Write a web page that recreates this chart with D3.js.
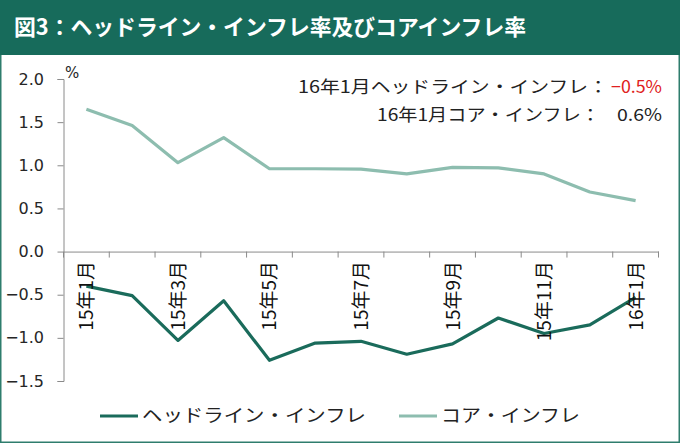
<!DOCTYPE html>
<html>
<head>
<meta charset="utf-8">
<script src="https://cdn.jsdelivr.net/npm/d3@7"></script>
<style>
  html, body { margin: 0; padding: 0; background: #fff; }
  svg { display: block; }
</style>
</head>
<body>
<svg id="chart" width="680" height="443"></svg>
<script>
const titleText = "図3：ヘッドライン・インフレ率及びコアインフレ率";
const categories = ["15年1月","15年2月","15年3月","15年4月","15年5月","15年6月","15年7月","15年8月","15年9月","15年10月","15年11月","15年12月","16年1月"];
const headline = [-0.40, -0.51, -1.03, -0.57, -1.26, -1.06, -1.04, -1.19, -1.07, -0.77, -0.95, -0.85, -0.53];
const core = [1.65, 1.46, 1.03, 1.32, 0.96, 0.96, 0.955, 0.90, 0.975, 0.97, 0.90, 0.69, 0.59];
const yTicks = [2.0, 1.5, 1.0, 0.5, 0.0, -0.5, -1.0, -1.5];
const seriesNames = ["ヘッドライン・インフレ", "コア・インフレ"];
const noteLabels = ["16年1月ヘッドライン・インフレ：", "16年1月コア・インフレ："];
const noteValues = ["−0.5%", "0.6%"];

const W = 680, H = 443;
const svg = d3.select("#chart");
const JP = "'Noto Sans CJK JP', 'Noto Sans', sans-serif";
const headColor = "#1a6b5b";
const coreColor = "#8dbdaf";
const axisColor = "#8a8a8a";

// frame
svg.append("rect").attr("x", 0).attr("y", 0).attr("width", W).attr("height", H).attr("fill", "#fff");
svg.append("rect").attr("x", 0.75).attr("y", 0.75).attr("width", W - 1.5).attr("height", H - 1.5)
  .attr("fill", "none").attr("stroke", "#2e7d6d").attr("stroke-width", 1.5);
svg.append("rect").attr("x", 0).attr("y", 0).attr("width", W).attr("height", 55).attr("fill", "#176b5b");
svg.append("text").attr("x", 14).attr("y", 35).attr("fill", "#fff")
  .attr("font-family", JP).attr("font-size", 22).attr("font-weight", "bold")
  .attr("textLength", 512).attr("lengthAdjust", "spacingAndGlyphs")
  .text(titleText);

// scales
const x = d3.scaleBand().domain(categories).range([63.5, 658.5]).padding(0);
const y = d3.scaleLinear().domain([-1.5, 2.0]).range([381, 79]);

// y axis
const yAxis = svg.append("g").attr("transform", "translate(63.5,0)")
  .call(d3.axisLeft(y).tickValues(yTicks).tickSize(6).tickFormat(d3.format(".1f")));
yAxis.select(".domain").attr("stroke", axisColor);
yAxis.selectAll(".tick line").attr("stroke", axisColor);
yAxis.selectAll(".tick text").attr("font-family", "'DejaVu Sans', sans-serif")
  .attr("font-size", 16).attr("fill", "#262626").attr("x", -19.5);

svg.append("text").attr("x", 65).attr("y", 78).attr("font-family", "'DejaVu Sans', sans-serif")
  .attr("font-size", 15).attr("fill", "#262626").text("%");

// x axis at zero
const xAxisG = svg.append("g").attr("transform", `translate(0,${y(0)})`)
  .call(d3.axisBottom(x).tickSize(0).tickFormat(""));
xAxisG.select(".domain").attr("stroke", axisColor);
const bounds = categories.map(c => x(c)).concat([x.range()[1]]);
xAxisG.selectAll(".btick").data(bounds).enter().append("line")
  .attr("x1", d => d).attr("x2", d => d).attr("y1", 0).attr("y2", 6)
  .attr("stroke", axisColor);

// lines
const line = d3.line().x((d, i) => x(categories[i]) + x.bandwidth() / 2).y(d => y(d));
svg.append("path").datum(core).attr("d", line).attr("fill", "none")
  .attr("stroke", coreColor).attr("stroke-width", 3.2).attr("stroke-linejoin", "round");
svg.append("path").datum(headline).attr("d", line).attr("fill", "none")
  .attr("stroke", headColor).attr("stroke-width", 3.2).attr("stroke-linejoin", "round");

// x labels (rotated) every other month
svg.selectAll(".xl").data(categories.filter((c, i) => i % 2 === 0)).enter().append("text")
  .attr("transform", d => `translate(${x(d) + x.bandwidth() / 2 + 7},261) rotate(-90)`)
  .attr("text-anchor", "end")
  .attr("font-family", JP).attr("font-size", 19).attr("fill", "#111")
  .text(d => d);

// annotation
const noteGeom = [
  {x: 298, y: 93, len: 310, vx: 611, vlen: 51, col: "#e02020"},
  {x: 377, y: 121, len: 223, vx: 617, vlen: 45, col: "#222"}
];
noteLabels.forEach((t, i) => {
  const g = noteGeom[i];
  svg.append("text").attr("x", g.x).attr("y", g.y).attr("font-family", JP).attr("font-size", 17)
    .attr("fill", "#222").attr("textLength", g.len).attr("lengthAdjust", "spacingAndGlyphs").text(t);
  svg.append("text").attr("x", g.vx).attr("y", g.y).attr("font-family", JP).attr("font-size", 17)
    .attr("fill", g.col).attr("textLength", g.vlen).attr("lengthAdjust", "spacingAndGlyphs").text(noteValues[i]);
});

// legend
const legendGeom = [
  {x1: 100, x2: 138, tx: 142, tlen: 224, col: headColor},
  {x1: 399, x2: 437, tx: 441, tlen: 139, col: coreColor}
];
seriesNames.forEach((n, i) => {
  const g = legendGeom[i];
  svg.append("line").attr("x1", g.x1).attr("x2", g.x2).attr("y1", 416).attr("y2", 416)
    .attr("stroke", g.col).attr("stroke-width", 3.2);
  svg.append("text").attr("x", g.tx).attr("y", 416).attr("dy", "0.36em")
    .attr("font-family", JP).attr("font-size", 18).attr("fill", "#222")
    .attr("textLength", g.tlen).attr("lengthAdjust", "spacingAndGlyphs").text(n);
});
</script>
</body>
</html>
